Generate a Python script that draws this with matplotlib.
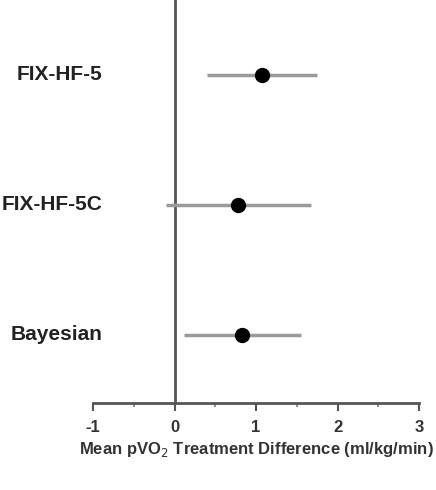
import numpy as np
import matplotlib
matplotlib.use("Agg")
import matplotlib.pyplot as plt
from matplotlib.ticker import MultipleLocator
from matplotlib.transforms import blended_transform_factory

plt.rcParams['font.family'] = ['Liberation Sans Narrow', 'Liberation Sans', 'DejaVu Sans']

# 연구별 평균 차이와 신뢰구간
studies = ["FIX-HF-5", "FIX-HF-5C", "Bayesian"]
means = [1.07, 0.78, 0.83]
ci_low = [0.40, -0.10, 0.12]
ci_high = [1.75, 1.67, 1.55]
xticks = [-1, 0, 1, 2, 3]

fig = plt.figure(figsize=(4.36, 4.9), dpi=100)
ax = fig.add_axes([93 / 436, 1 - 403 / 490, (419 - 93) / 436, 403 / 490])

ypos = np.arange(len(studies))[::-1] + 1
means = np.array(means)
err = [means - np.array(ci_low), np.array(ci_high) - means]

ax.axvline(0, color='#555555', lw=2, zorder=1)
ax.errorbar(means, ypos, xerr=err, fmt='o', color='black', ms=10,
            ecolor='#9a9a9a', elinewidth=2.5, capsize=0, zorder=3)

ax.set_xlim(-1, 3)
ax.set_ylim(1 - 68 / 130, 3 + 75 / 130)
ax.set_xticks(xticks)
ax.set_xticklabels([str(t) for t in xticks], fontsize=12, fontweight='bold', color='#333333')
ax.xaxis.set_minor_locator(MultipleLocator(0.5))
ax.tick_params(axis='x', which='major', length=6, width=1.5, color='#555555', pad=6)
ax.tick_params(axis='x', which='minor', length=3, width=1.2, color='#777777')
ax.set_yticks([])
for s in ['top', 'right', 'left']:
    ax.spines[s].set_visible(False)
ax.spines['bottom'].set_color('#555555')
ax.spines['bottom'].set_linewidth(2)

# 라벨은 figure x 좌표, 데이터 y 좌표로 배치
trans = blended_transform_factory(fig.transFigure, ax.transData)
for name, y in zip(studies, ypos):
    ax.text(102 / 436, y, name, transform=trans, ha='right', va='center',
            fontsize=15, fontweight='bold', color='#222222')

ax.set_xlabel("Mean pVO$_2$ Treatment Difference (ml/kg/min)", fontsize=12,
              fontweight='bold', color='#333333', labelpad=4)

fig.savefig("out.png", dpi=100)
